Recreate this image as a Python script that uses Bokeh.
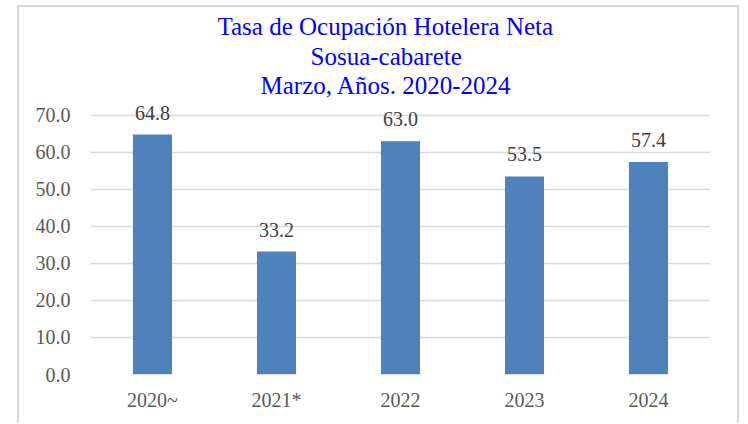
from bokeh.plotting import figure
from bokeh.models import ColumnDataSource, LabelSet, Title, NumeralTickFormatter, FixedTicker, Range1d
from bokeh.embed import file_html
from bokeh.resources import INLINE

categories = ["2020~", "2021*", "2022", "2023", "2024"]
values = [64.8, 33.2, 63.0, 53.5, 57.4]
labels = ["64.8", "33.2", "63.0", "53.5", "57.4"]
title_lines = ["Tasa de Ocupación Hotelera Neta", "Sosua-cabarete", "Marzo, Años. 2020-2024"]
y_ticks = [0, 10, 20, 30, 40, 50, 60, 70]

source = ColumnDataSource(dict(cat=categories, val=values, lab=labels))

p = figure(x_range=categories, y_range=Range1d(0, 74), width=722, height=418,
           output_backend="svg", toolbar_location=None,
           min_border_left=71, min_border_right=31, min_border_top=90, min_border_bottom=51)
p.title = None
p.styles = {"border-top": "2px solid #D9D9D9", "border-left": "2px solid #D9D9D9",
            "border-right": "2px solid #D9D9D9", "position": "relative",
            "left": "17px", "top": "5px"}

# (line, standoff, horizontal offset from frame left) - bottom line first
title_layout = [(title_lines[2], 3, 170), (title_lines[1], -3, 220), (title_lines[0], 6, 127)]
for t, so, off in title_layout:
    ttl = Title(text=t, align="left", offset=off, text_font="Liberation Serif",
                text_font_size="25px", text_font_style="normal", text_color="#0000FF",
                standoff=so)
    p.add_layout(ttl, "above")

p.vbar(x="cat", top="val", width=0.315, source=source, fill_color="#4F81BD", line_color=None)

p.add_layout(LabelSet(x="cat", y="val", text="lab", source=source, text_align="center",
                      text_baseline="alphabetic", y_offset=15, text_font="Liberation Serif",
                      text_font_size="20px", text_color="#404040"))

p.outline_line_color = None
p.xgrid.grid_line_color = None
p.ygrid.grid_line_color = "#D9D9D9"
p.ygrid.grid_line_width = 1.5
p.yaxis.ticker = FixedTicker(ticks=y_ticks)
p.yaxis.formatter = NumeralTickFormatter(format="0.0")
for ax in (p.xaxis[0], p.yaxis[0]):
    ax.axis_line_color = None
    ax.major_tick_line_color = None
    ax.minor_tick_line_color = None
    ax.major_tick_out = 0
    ax.major_tick_in = 0
    ax.major_label_text_font = "Liberation Serif"
    ax.major_label_text_font_size = "20px"
    ax.major_label_text_color = "#595959"
p.yaxis.major_label_standoff = 20
p.xaxis.major_label_standoff = 14
p.x_range.range_padding = 0

open("out.html", "w").write(file_html(p, INLINE))
